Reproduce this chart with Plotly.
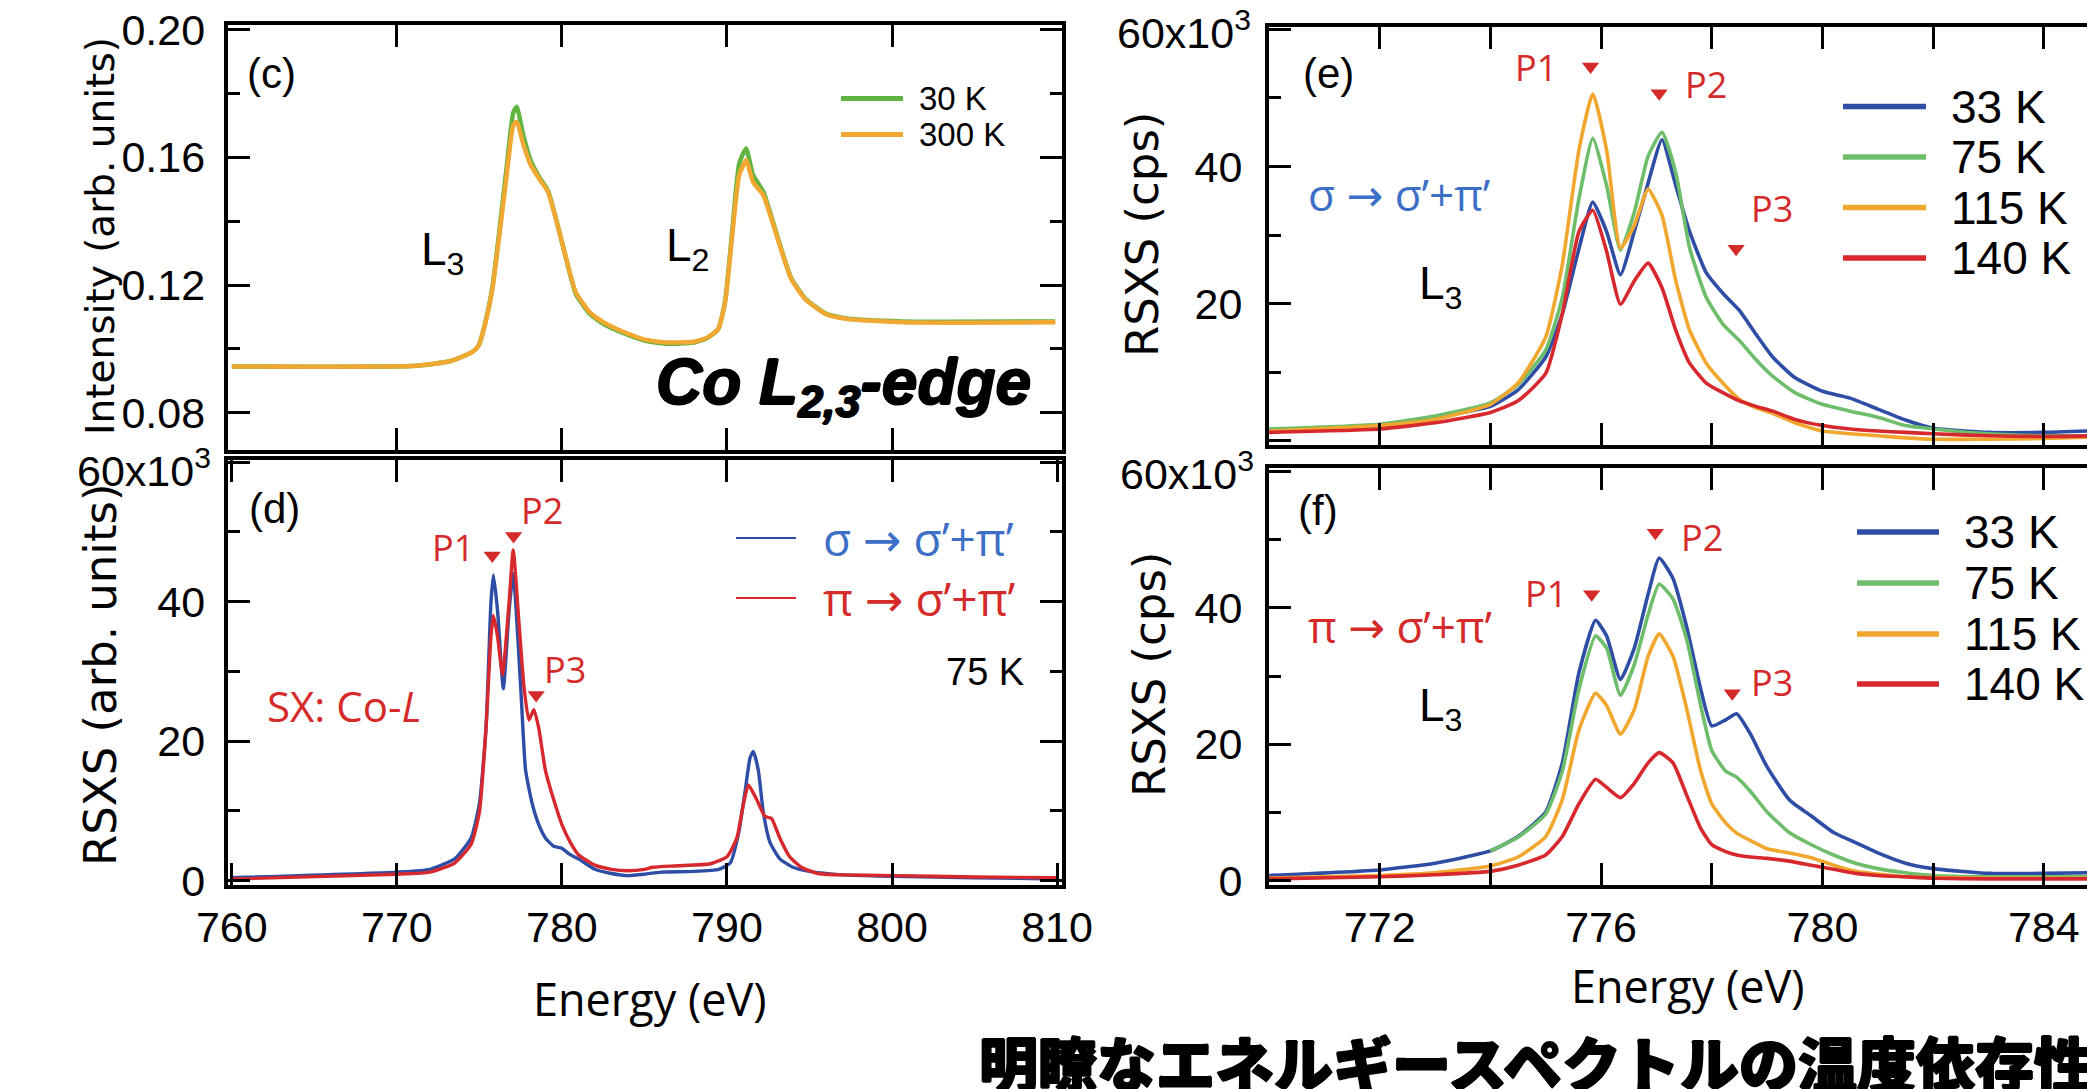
import plotly.graph_objects as go

W, H = 2087, 1089

# ---------------- data ----------------
# (c) XAS Co L2,3-edge
c_energy = [760.0, 771.16, 773.26, 774.53, 774.95, 775.37, 775.79, 776.21, 776.63, 777.05,
            777.26, 777.68, 778.11, 778.61, 779.16, 779.58, 780.0, 780.42, 780.84, 781.68,
            782.53, 783.79, 785.05, 786.32, 788.0, 788.84, 789.47, 789.89, 790.32, 790.74,
            791.16, 791.58, 792.21, 792.63, 793.26, 793.89, 794.74, 796.0, 797.26, 800.63, 809.89]
c_300K = [0.0945, 0.0947, 0.0962, 0.0989, 0.1010, 0.1083, 0.1188, 0.1356, 0.1534, 0.1701,
          0.1712, 0.1638, 0.1576, 0.1534, 0.1492, 0.1418, 0.1335, 0.1251, 0.1177, 0.1115,
          0.1083, 0.1052, 0.1029, 0.1020, 0.1022, 0.1036, 0.1062, 0.1146, 0.1356, 0.1544,
          0.1591, 0.1523, 0.1481, 0.1418, 0.1314, 0.1219, 0.1156, 0.1109, 0.1094, 0.1083, 0.1083]
c_30K = [0.0945, 0.0947, 0.0962, 0.0989, 0.1010, 0.1085, 0.1195, 0.1370, 0.1560, 0.1740,
         0.1759, 0.1665, 0.1590, 0.1540, 0.1495, 0.1420, 0.1335, 0.1248, 0.1172, 0.1110,
         0.1078, 0.1048, 0.1025, 0.1016, 0.1020, 0.1035, 0.1062, 0.1150, 0.1370, 0.1580,
         0.1628, 0.1545, 0.1492, 0.1425, 0.1318, 0.1222, 0.1158, 0.1110, 0.1095, 0.1086, 0.1086]

# (d) RSXS 75 K, sigma and pi incidence
d_energy_sigma = [760, 770, 772, 773.5, 774.5, 775.0, 775.4, 775.7, 775.85, 776.1,
                  776.45, 776.8, 777.05, 777.5, 777.8, 778.2, 778.6, 779.0, 779.5, 780.0,
                  780.5, 781, 782, 783, 784, 785, 786, 788, 789.5, 790.2,
                  790.7, 791.1, 791.4, 791.6, 791.9, 792.2, 792.6, 793.2, 794, 795,
                  797, 800, 805, 810]
d_sigma = [0.4, 1.2, 1.6, 3.1, 6.1, 11.0, 21.8, 39.9, 43.8, 38.7,
           27.5, 38.7, 44.0, 27.8, 15.8, 11.0, 8.0, 6.1, 4.9, 4.6,
           3.7, 3.1, 1.6, 1.0, 0.7, 0.9, 1.2, 1.3, 1.6, 2.5,
           6.7, 12.8, 17.6, 18.5, 15.8, 9.8, 5.5, 3.1, 1.9, 1.3,
           0.8, 0.6, 0.4, 0.2]
d_energy_pi = [760, 770, 772, 773.5, 774.5, 775.0, 775.4, 775.7, 775.85, 776.1,
               776.4, 776.8, 777.05, 777.4, 777.7, 778.0, 778.3, 778.6, 779.0, 779.5,
               780.0, 780.5, 781, 782, 783, 784, 785, 785.5, 787, 789,
               790, 790.6, 791.0, 791.3, 791.8, 792.3, 792.7, 793.2, 793.8, 794.5,
               795.5, 797, 800, 805, 810]
d_pi = [0.2, 0.9, 1.2, 2.5, 5.2, 9.8, 21.8, 35.0, 38.0, 35.0,
        29.5, 39.9, 47.4, 36.9, 27.8, 23.0, 24.5, 21.8, 15.8, 11.6,
        8.0, 5.5, 3.7, 2.2, 1.6, 1.4, 1.6, 1.9, 2.1, 2.4,
        3.4, 6.1, 11.0, 13.7, 11.6, 9.2, 8.9, 6.1, 3.4, 1.9,
        1.0, 0.8, 0.7, 0.5, 0.4]

# (e) sigma -> sigma'+pi', temperature dependence
e_energy = [770, 772, 773, 774, 774.5, 775, 775.3, 775.6, 775.85, 776.1,
            776.35, 776.6, 776.85, 777.1, 777.35, 777.6, 777.9, 778.2, 778.5, 778.8,
            779.1, 779.5, 780, 780.5, 781, 781.5, 782, 783, 784, 784.8]
e_33K = [1.4, 2.2, 3.4, 5.0, 7.4, 12.2, 18.5, 28.0, 34.8, 30.5,
         24.2, 30.5, 37.6, 43.9, 37.2, 30.5, 24.5, 21.5, 19.0, 15.5,
         12.2, 9.2, 7.2, 6.2, 4.6, 3.0, 1.8, 1.2, 1.2, 1.4]
e_75K = [1.7, 2.4, 3.6, 5.5, 8.2, 13.2, 20.9, 35.3, 44.1, 37.2,
         27.8, 33.3, 41.5, 45.0, 39.1, 28.1, 20.9, 17.0, 14.6, 11.8,
         9.4, 7.0, 5.3, 4.3, 3.4, 2.2, 1.7, 1.0, 0.7, 0.7]
e_115K = [1.4, 2.2, 3.1, 5.3, 8.4, 15.1, 25.7, 42.4, 50.6, 42.4,
          28.1, 31.4, 36.7, 32.9, 23.3, 16.1, 11.3, 8.4, 6.0, 4.8,
          4.0, 2.6, 1.4, 1.0, 0.7, 0.4, 0.2, 0.2, 0.3, 0.5]
e_140K = [1.2, 1.7, 2.6, 4.1, 5.8, 9.8, 18.5, 30.5, 33.6, 27.6,
          19.9, 23.3, 25.9, 22.3, 16.1, 11.3, 8.4, 7.0, 5.8, 5.0,
          4.3, 3.1, 2.2, 1.7, 1.4, 1.2, 1.0, 0.7, 0.6, 0.7]

# (f) pi -> sigma'+pi', temperature dependence
f_energy = [770, 772, 773, 774, 774.5, 775, 775.3, 775.6, 775.9, 776.1,
            776.35, 776.6, 776.85, 777.05, 777.3, 777.55, 777.8, 778.0, 778.25, 778.45,
            778.7, 779.0, 779.4, 779.8, 780.2, 780.6, 781, 781.5, 782, 783, 784, 784.8]
f_33K = [0.8, 1.6, 2.6, 4.4, 6.5, 10.1, 17.3, 30.5, 38.2, 35.9,
         29.5, 34.1, 42.0, 47.3, 44.3, 37.1, 28.1, 22.7, 23.6, 24.5,
         21.5, 16.7, 11.9, 9.5, 7.1, 5.6, 4.1, 2.6, 1.8, 1.1, 1.1, 1.2]
f_75K = [None, None, None, 4.4, 6.4, 9.8, 16.1, 28.1, 35.9, 34.1,
         27.2, 31.7, 39.0, 43.5, 41.3, 35.3, 25.7, 19.1, 16.1, 15.2,
         13.1, 10.1, 7.1, 5.3, 3.8, 2.6, 1.8, 1.2, 0.8, 0.6, 0.6, 0.6]
f_115K = [0.4, 0.8, 1.2, 2.2, 3.5, 6.5, 11.9, 22.1, 27.5, 25.7,
          21.5, 25.1, 32.9, 36.2, 32.9, 25.1, 16.1, 11.3, 8.5, 7.0,
          5.9, 4.7, 4.1, 3.4, 2.3, 1.4, 1.0, 0.6, 0.5, 0.4, 0.4, 0.4]
f_140K = [0.3, 0.6, 0.9, 1.4, 2.3, 3.8, 6.5, 11.3, 14.9, 13.7,
          12.2, 14.3, 17.3, 18.8, 17.3, 12.5, 7.7, 5.3, 4.3, 3.8,
          3.5, 3.3, 2.9, 2.3, 1.7, 1.1, 0.8, 0.6, 0.4, 0.3, 0.3, 0.3]

# peak markers (P1, P2, P3)
peak_names = ["P1", "P2", "P3"]
d_peak_x = [775.78, 777.07, 778.44]
d_peak_y = [46.6, 49.4, 26.6]
d_label_x = [773.4, 778.8, 780.2]
d_label_y = [47.8, 53.0, 30.3]
e_peak_x = [775.81, 777.05, 778.44]
e_peak_y = [54.6, 50.7, 28.0]
e_label_x = [774.82, 777.9, 779.09]
e_label_y = [54.5, 51.9, 33.8]
f_peak_x = [775.83, 776.98, 778.37]
f_peak_y = [42.0, 51.0, 27.5]
f_label_x = [775.0, 777.83, 779.09]
f_label_y = [42.1, 50.3, 29.0]

c_series = ["30 K", "300 K"]
d_series_sym = [("σ", "σ’+π’"), ("π", "σ’+π’")]
ef_series = ["33 K", "75 K", "115 K", "140 K"]

# tick labels
c_yticks = [0.08, 0.12, 0.16, 0.20]
c_yticktext = ["0.08", "0.12", "0.16", "0.20"]
c_yminor = [0.10, 0.14, 0.18]
cd_xticks = [760, 770, 780, 790, 800, 810]
cd_xticktext = ["760", "770", "780", "790", "800", "810"]
rs_yticks = [0, 20, 40, 60]
rs_yticktext = ["0", "20", "40", " "]
e_yticktext = [" ", "20", "40", " "]
rs_top_label = "60x10<sup>3</sup>"
rs_yminor = [10, 30, 50]
ef_xticks = [772, 774, 776, 778, 780, 782, 784]
ef_xticktext = ["772", " ", "776", " ", "780", " ", "784"]

# ---------------- styles ----------------
GREEN_C = "#62b441"
ORANGE_C = "#f0a832"
BLUE = "#2e4ea6"
RED = "#d6282d"
GREEN = "#6dbd6b"
ORANGE = "#f1a62e"
TXT_BLUE = "#3d6fc6"
TXT_RED = "#d42a2a"
SANS = "Liberation Sans, Arial, sans-serif"
TITLEF = "DejaVu Sans, sans-serif"
LABF = "Open Sans, sans-serif"
ARROW = "<span style='font-family:DejaVu Sans'>→</span>"
HEAVY = "1px 0 0 #000, -1px 0 0 #000, 0 1px 0 #000, 0 -1px 0 #000"


def px(x):
    return x / W


def py(y):
    return 1 - y / H


fig = go.Figure()


def line(x, y, color, width, ax, ay):
    fig.add_trace(go.Scatter(x=x, y=y, mode="lines", xaxis=ax, yaxis=ay,
                             line=dict(color=color, width=width, shape="spline", smoothing=0.5),
                             showlegend=False, hoverinfo="skip"))


# panel c
line(c_energy, c_30K, GREEN_C, 4.5, "x", "y")
line(c_energy, c_300K, ORANGE_C, 4.5, "x", "y")
# panel d
line(d_energy_sigma, d_sigma, BLUE, 3.4, "x2", "y2")
line(d_energy_pi, d_pi, RED, 3.4, "x2", "y2")
# panel e
for ys, col in zip([e_33K, e_75K, e_115K, e_140K], [BLUE, GREEN, ORANGE, RED]):
    line(e_energy, ys, col, 3.6, "x3", "y3")
# panel f
for ys, col in zip([f_33K, f_75K, f_115K, f_140K], [BLUE, GREEN, ORANGE, RED]):
    line(f_energy, ys, col, 3.6, "x4", "y4")

# peak markers
for xs, ys, ax, ay in [(d_peak_x, d_peak_y, "x2", "y2"), (e_peak_x, e_peak_y, "x3", "y3"),
                       (f_peak_x, f_peak_y, "x4", "y4")]:
    fig.add_trace(go.Scatter(x=xs, y=ys, mode="markers", xaxis=ax, yaxis=ay,
                             marker=dict(symbol="triangle-down", size=15, color=TXT_RED),
                             showlegend=False, hoverinfo="skip"))

annotations = []
for xs, ys, ax, ay in [(d_label_x, d_label_y, "x2", "y2"), (e_label_x, e_label_y, "x3", "y3"),
                       (f_label_x, f_label_y, "x4", "y4")]:
    for name, xv, yv in zip(peak_names, xs, ys):
        annotations.append(dict(x=xv, y=yv, xref=ax, yref=ay, text=name, showarrow=False,
                                xanchor="center", yanchor="middle",
                                font=dict(family=LABF, size=36, color=TXT_RED)))


def ann(x, y, text, size, color="black", family=SANS, xanchor="center", yanchor="middle",
        textangle=0, weight="normal", shadow="none"):
    annotations.append(dict(x=px(x), y=py(y), xref="paper", yref="paper", text=text,
                            showarrow=False, xanchor=xanchor, yanchor=yanchor,
                            textangle=textangle, borderpad=0,
                            font=dict(family=family, size=size, color=color, weight=weight,
                                      shadow=shadow)))


def pol(pair):
    return pair[0] + " " + ARROW + " " + pair[1]


# panel labels / texts
ann(271, 73, "(c)", 42)
ann(443, 252, "L<sub>3</sub>", 46)
ann(688, 249, "L<sub>2</sub>", 46)
ann(1032, 386, "<i>Co L<sub>2,3</sub>-edge</i>", 64, xanchor="right", weight="bold",
    shadow=HEAVY)
ann(274, 508, "(d)", 42)
ann(985, 672, "75 K", 38)
ann(266, 705, "SX: Co-<i>L</i>", 42, color=TXT_RED, family=LABF, xanchor="left")
ann(1328, 73, "(e)", 42)
ann(1307, 194, pol(d_series_sym[0]), 44, color=TXT_BLUE, family=LABF, xanchor="left")
ann(1441, 286, "L<sub>3</sub>", 46)
ann(1318, 510, "(f)", 42)
ann(1307, 626, pol(d_series_sym[1]), 44, color=TXT_RED, family=LABF, xanchor="left")
ann(1441, 708, "L<sub>3</sub>", 46)

# top y tick labels of the RSXS panels
ann(212, 468, rs_top_label, 43, xanchor="right")
ann(1252, 30, rs_top_label, 43, xanchor="right")
ann(1255, 471, rs_top_label, 43, xanchor="right")

# axis titles
ann(100, 236, "Intensity (arb. units)", 39, family=TITLEF, textangle=-90)
ann(100, 675, "RSXS (arb. units)", 45, family=TITLEF, textangle=-90)
ann(1142, 235, "RSXS (cps)", 45, family=TITLEF, textangle=-90)
ann(1149, 675, "RSXS (cps)", 45, family=TITLEF, textangle=-90)
ann(650, 998, "Energy (eV)", 45, family=LABF)
ann(1688, 985, "Energy (eV)", 45, family=LABF)

# bottom caption
ann(978, 1061, "明瞭なエネルギースペクトルの温度依存性", 59,
    family="Noto Sans CJK JP, sans-serif", xanchor="left", weight=900, shadow=HEAVY)

# custom legends
shapes = []


def leg_line(x0, x1, y, color, width):
    shapes.append(dict(type="line", xref="paper", yref="paper", x0=px(x0), x1=px(x1),
                       y0=py(y), y1=py(y), line=dict(color=color, width=width)))


for name, col, yy in zip(c_series, [GREEN_C, ORANGE_C], [98.5, 134.5]):
    leg_line(841, 903, yy, col, 5)
    ann(918, yy, name, 33, xanchor="left")
for pair, col, tcol, yy in zip(d_series_sym, [BLUE, RED], [TXT_BLUE, TXT_RED], [538, 598]):
    leg_line(736, 796, yy, col, 2.2)
    ann(822, yy, pol(pair), 46, color=tcol, family=LABF, xanchor="left")
for name, col, yy in zip(ef_series, [BLUE, GREEN, ORANGE, RED], [106.5, 157, 207.6, 258]):
    leg_line(1843, 1926, yy, col, 5.5)
    ann(1950, yy, name, 46, xanchor="left")
for name, col, yy in zip(ef_series, [BLUE, GREEN, ORANGE, RED], [532, 583, 634, 684]):
    leg_line(1857, 1939, yy, col, 5.5)
    ann(1963, yy, name, 46, xanchor="left")


def axis(domain, rng, anchor, tickvals, ticktext=None, showlabels=True, minor=None,
         mirror="ticks", standoff=None):
    a = dict(domain=domain, range=rng, anchor=anchor, showline=True, linecolor="black",
             linewidth=4, mirror=mirror, ticks="inside", ticklen=22, tickwidth=3,
             tickcolor="black", showgrid=False, zeroline=False, tickmode="array",
             tickvals=tickvals, showticklabels=showlabels, automargin=False,
             ticklabeloverflow="allow",
             tickfont=dict(family=SANS, size=43, color="black"))
    if ticktext is not None:
        a["ticktext"] = ticktext
    if minor is not None:
        a["minor"] = dict(tickmode="array", tickvals=minor, ticks="inside", ticklen=12,
                          tickwidth=3, tickcolor="black", showgrid=False)
    if standoff is not None:
        a["ticklabelstandoff"] = standoff
    return a


LX = [px(227.7), px(1062)]
RX = [px(1269), 1.0]

fig.update_layout(
    template="none",
    width=W, height=H,
    margin=dict(l=0, r=0, t=0, b=0, pad=0),
    paper_bgcolor="white", plot_bgcolor="white",
    showlegend=False,
    xaxis=axis(LX, [759.75, 810.3], "y", cd_xticks[1:-1], showlabels=False),
    yaxis=axis([py(450), py(25)], [0.0683, 0.2015], "x", c_yticks, c_yticktext,
               minor=c_yminor, standoff=10),
    xaxis2=axis(LX, [759.75, 810.3], "y2", cd_xticks, cd_xticktext, standoff=1),
    yaxis2=axis([py(885), py(460)], [-0.65, 60.3], "x2", rs_yticks, rs_yticktext,
                minor=rs_yminor, standoff=10),
    xaxis3=axis(RX, [770, 784.78], "y3", ef_xticks, showlabels=False),
    yaxis3=axis([py(445), py(27)], [-0.64, 60.35], "x3", rs_yticks, e_yticktext,
                minor=rs_yminor, mirror=False, standoff=14),
    xaxis4=axis(RX, [770, 784.78], "y4", ef_xticks, ef_xticktext, standoff=1),
    yaxis4=axis([py(885), py(468)], [-0.6, 60.5], "x4", rs_yticks, rs_yticktext,
                minor=rs_yminor, mirror=False, standoff=14),
    annotations=annotations,
    shapes=shapes,
)

fig.write_html("out.html",
               config={"displayModeBar": False},
               post_script="document.body.style.margin='0px';"
                           "document.documentElement.style.overflow='hidden';")
